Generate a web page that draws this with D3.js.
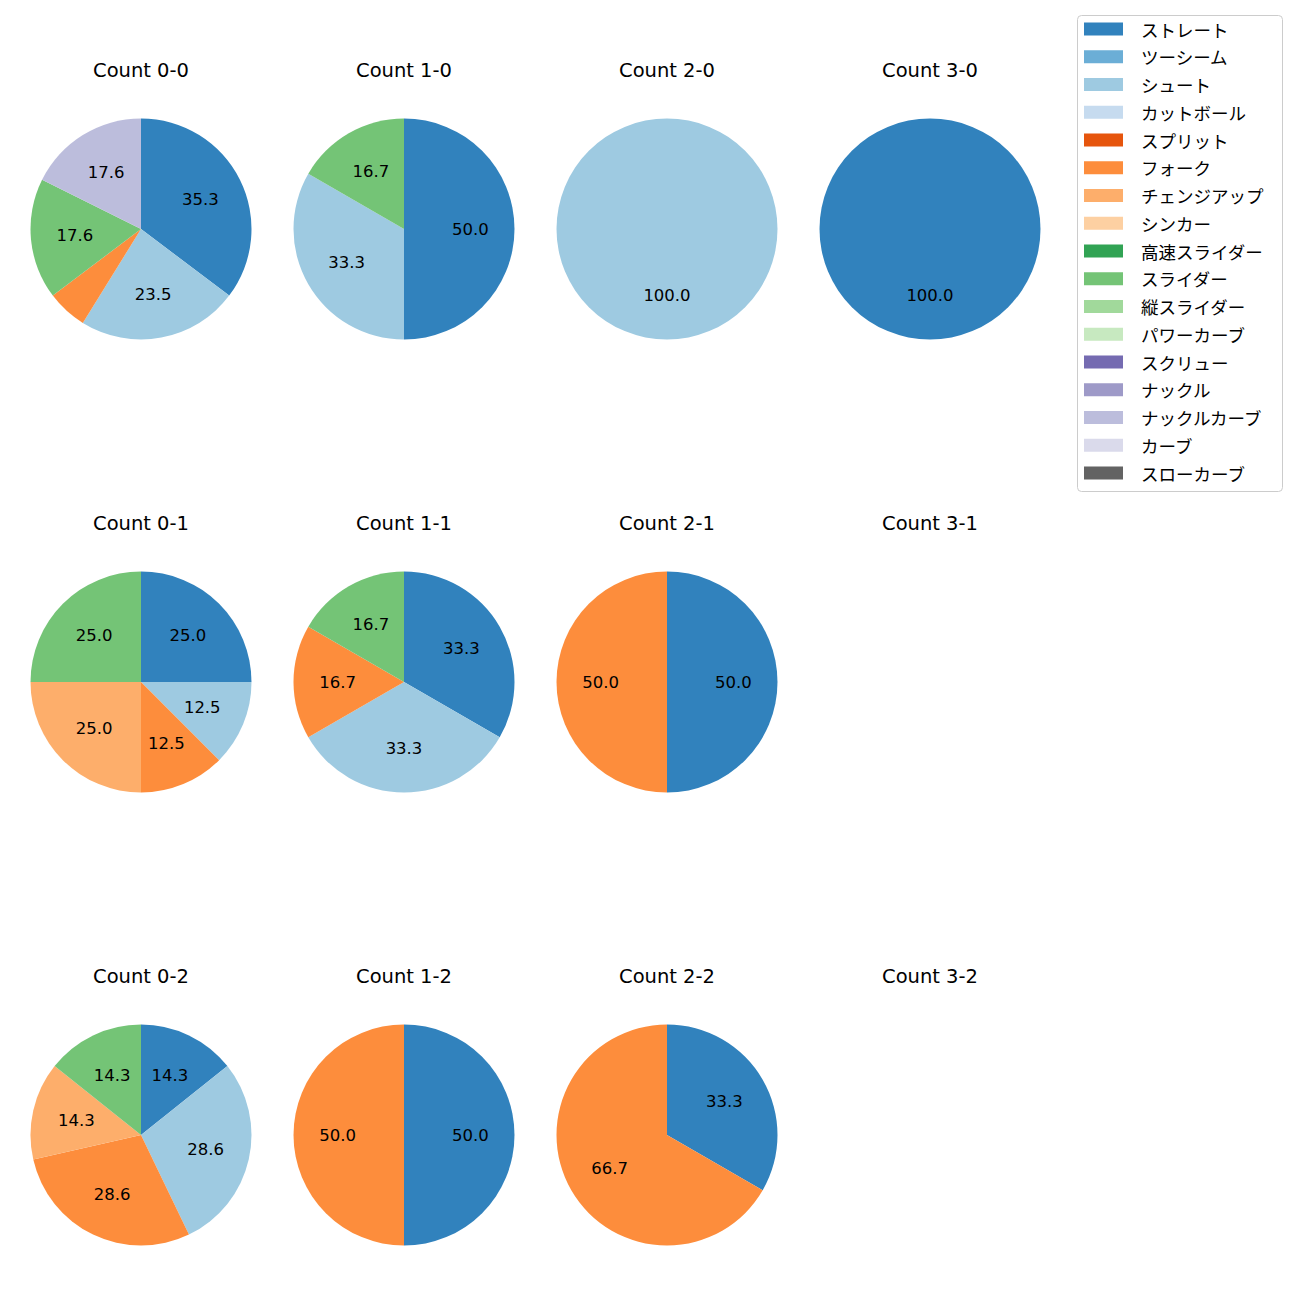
<!DOCTYPE html>
<html><head><meta charset="utf-8">
<script src="https://cdn.jsdelivr.net/npm/d3@7"></script>
<style>body{margin:0;background:#fff;}</style>
</head><body>
<script>
const pitchTypes = ["ストレート","ツーシーム","シュート","カットボール","スプリット","フォーク","チェンジアップ","シンカー","高速スライダー","スライダー","縦スライダー","パワーカーブ","スクリュー","ナックル","ナックルカーブ","カーブ","スローカーブ"];
const pitchColors = ["#3182bd","#6baed6","#9ecae1","#c6dbef","#e6550d","#fd8d3c","#fdae6b","#fdd0a2","#31a354","#74c476","#a1d99b","#c7e9c0","#756bb1","#9e9ac8","#bcbddc","#dadaeb","#636363"];
const countTitles = ["Count 0-0","Count 1-0","Count 2-0","Count 3-0","Count 0-1","Count 1-1","Count 2-1","Count 3-1","Count 0-2","Count 1-2","Count 2-2","Count 3-2"];
// pitch counts per panel: [type, count]
const panel00 = [["ストレート",6],["シュート",4],["フォーク",1],["スライダー",3],["ナックルカーブ",3]];
const panel10 = [["ストレート",3],["シュート",2],["スライダー",1]];
const panel20 = [["シュート",1]];
const panel30 = [["ストレート",1]];
const panel01 = [["ストレート",2],["シュート",1],["フォーク",1],["チェンジアップ",2],["スライダー",2]];
const panel11 = [["ストレート",2],["シュート",2],["フォーク",1],["スライダー",1]];
const panel21 = [["ストレート",1],["フォーク",1]];
const panel31 = [];
const panel02 = [["ストレート",1],["シュート",2],["フォーク",2],["チェンジアップ",1],["スライダー",1]];
const panel12 = [["ストレート",1],["フォーク",1]];
const panel22 = [["ストレート",1],["フォーク",2]];
const panel32 = [];
const panels = [panel00,panel10,panel20,panel30,panel01,panel11,panel21,panel31,panel02,panel12,panel22,panel32];

const W = 1300, H = 1300;
const latin = "'DejaVu Sans',sans-serif";
const jp = "'Noto Sans CJK JP','Noto Sans',sans-serif";
const svg = d3.select("body").append("svg").attr("width",W).attr("height",H);
const color = d3.scaleOrdinal().domain(pitchTypes).range(pitchColors);
const colX = d3.scalePoint().domain([0,1,2,3]).range([141,930]);
const rowY = d3.scalePoint().domain([0,1,2]).range([229,1135]);
const R = 110.5;
const pie = d3.pie().value(d=>d[1]).sort(null).startAngle(0).endAngle(2*Math.PI);
const arc = d3.arc().innerRadius(0).outerRadius(R);
const labelArc = d3.arc().innerRadius(R*0.6).outerRadius(R*0.6);

panels.forEach((data,i)=>{
  const c = i%4, r = Math.floor(i/4);
  const g = svg.append("g").attr("transform",`translate(${colX(c)},${rowY(r)})`);
  g.append("text").attr("x",0).attr("y",-152).attr("text-anchor","middle")
    .attr("font-family",latin).attr("font-size",19.5).attr("fill","#000").text(countTitles[i]);
  if(!data.length) return;
  const total = d3.sum(data,d=>d[1]);
  const arcs = pie(data);
  g.selectAll("path").data(arcs).join("path").attr("d",arc).attr("fill",d=>color(d.data[0]));
  g.selectAll("text.lbl").data(arcs.filter(d=>d.data[1]/total*100>=10)).join("text").attr("class","lbl")
    .attr("transform",d=>{
      if(data.length===1) return `translate(0,${R*0.6})`;
      const [x,y]=labelArc.centroid(d); return `translate(${x},${y})`;})
    .attr("text-anchor","middle").attr("dominant-baseline","central")
    .attr("font-family",latin).attr("font-size",16.5).attr("fill","#000")
    .text(d=>(d.data[1]/total*100).toFixed(1));
});

// legend
const lg = svg.append("g");
lg.append("rect").attr("x",1077.5).attr("y",15.5).attr("width",205).attr("height",476)
  .attr("rx",4).attr("fill","#fff").attr("stroke","#cccccc").attr("stroke-width",1);
const ly = d3.scaleLinear().domain([0,pitchTypes.length-1]).range([29,473]);
pitchTypes.forEach((t,i)=>{
  lg.append("rect").attr("x",1084).attr("y",ly(i)-6.5).attr("width",39).attr("height",13).attr("fill",color(t));
  lg.append("text").attr("x",1141).attr("y",ly(i)).attr("dominant-baseline","central")
    .attr("font-family",jp).attr("font-size",17.5).attr("fill","#000").text(t);
});
</script>
</body></html>
